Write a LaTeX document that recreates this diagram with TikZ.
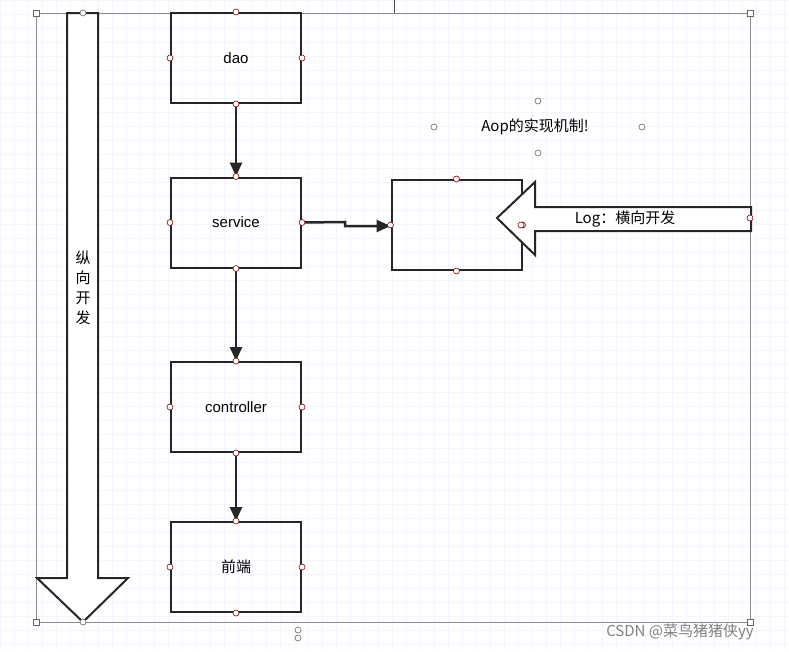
\documentclass[tikz,border=0pt]{standalone}
\usepackage{fontspec}
\setmainfont{Liberation Sans}
\newfontfamily\cjk{Noto Sans CJK SC}
\usetikzlibrary{arrows.meta}
\begin{document}
\begin{tikzpicture}[x=1pt,y=-1pt,
  box/.style={draw=black!85,line width=2pt,minimum width=130pt,minimum height=90pt,inner sep=0pt,font=\fontsize{15}{17}\selectfont},
  conn/.style={draw=black!85,line width=2.5pt,-{Triangle[length=14pt,width=12pt]}},
  hnd/.style={circle,draw=black!60,fill=white,line width=0.6pt,minimum size=6pt,inner sep=0pt},
  hsq/.style={rectangle,draw=black!60,fill=white,line width=0.6pt,minimum size=6pt,inner sep=0pt},
  fat/.style={draw=black!85,line width=2pt,fill=white,line join=miter}]
\useasboundingbox (0,0) rectangle (789,651);
\fill[white] (0,0) rectangle (789,651);
\foreach \x in {0,14,...,789} \draw[blue!4,line width=0.4pt] (\x,0) -- (\x,651);
\foreach \y in {0,14,...,651} \draw[blue!4,line width=0.4pt] (0,\y) -- (789,\y);
% selection frame
\draw[black!45,line width=0.6pt] (36,13) rectangle (750,622);
\draw[black!70,line width=0.6pt] (394,0) -- (394,13);
% vertical big arrow
\draw[fat] (67,13) -- (98,13) -- (98,578) -- (128,578) -- (83,622) -- (37,578) -- (67,578) -- cycle;
\node[font=\cjk\fontsize{15}{20}\selectfont,align=center] (v) at (83,288) {纵\\向\\开\\发};
% boxes
\node[box] (dao) at (236,58) {dao};
\node[box] (svc) at (236,222.5) {service};
\node[box] (ctl) at (236,407) {controller};
\node[box,font=\cjk\fontsize{15}{17}\selectfont] (fe) at (236,567) {前端};
\node[box] (aop) at (456.5,225) {};
\draw[conn] (dao.south) -- (ctl.north |- svc.north);
\draw[conn] (svc.south) -- (ctl.north);
\draw[conn] (ctl.south) -- (fe.north);
\coordinate (m1) at (345,222);
\draw[conn] (svc.east) -- (m1) -- (345,226) -- (aop.west |- 0,226);
% horizontal big arrow
\draw[fat] (751,207) -- (535,207) -- (535,182) -- (497,218) -- (535,255) -- (535,231) -- (751,231) -- cycle;
\node[font=\cjk\fontsize{15}{18}\selectfont] (log) at (625,219) {Log：横向开发};
\node[font=\cjk\fontsize{15}{18}\selectfont] (t) at (535,127) {Aop的实现机制!};
% handles
\foreach \p in {(83,13),(83,622)} \node[hnd] at \p {};
\foreach \p in {(36,13),(750,13),(36,622),(750,622)} \node[hsq] at \p {};
\foreach \p in {(538,101),(538,153),(434,127),(642,127)} \node[hnd] at \p {};
\foreach \n in {dao,svc,ctl,fe,aop} {
  \foreach \a in {north,south,east,west} \node[hnd,draw=red!50!black] at (\n.\a) {};}
\node[hnd,draw=red!50!black] at (521,225) {};
\node[hnd,draw=red!50!black] at (750,218) {};
\node[hnd] at (298,630) {};
\node[hnd] at (298,638) {};
\node[font=\cjk\fontsize{15}{17}\selectfont,text=black!50] (wm) at (680,632) {CSDN @菜鸟猪猪侠yy};
\end{tikzpicture}
\end{document}
